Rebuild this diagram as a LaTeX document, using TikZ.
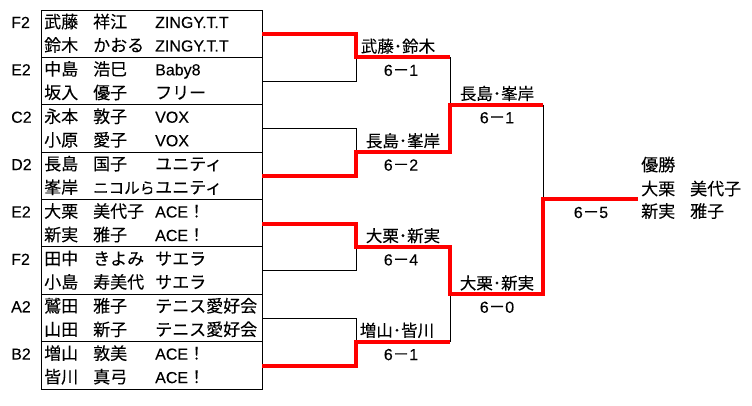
\documentclass[tikz,border=0pt]{standalone}
\usepackage{fontspec}
\setmainfont[FakeBold=0.12]{Noto Sans CJK JP}
\newfontfamily\latfont[FakeBold=0.12]{Liberation Sans}
\newcommand\lat{\latfont\fontsize{16}{18}\selectfont}
\begin{document}
\begin{tikzpicture}[x=1pt,y=-1pt,
  txt/.style={anchor=base west, inner sep=0pt, font=\fontsize{17}{18}\selectfont},
  lbl/.style={anchor=base, inner sep=0pt, font=\fontsize{16.5}{18}\selectfont},
  thinline/.style={draw=black, line width=0.9pt},
  winline/.style={draw=red, line width=4pt, line join=miter}]
\useasboundingbox (0,0) rectangle (752,406);
% table
\draw[thinline] (41,10) rectangle (262,389);
\foreach \k in {1,...,7} \draw[thinline] (41,{10+47.375*\k}) -- (262,{10+47.375*\k});
\foreach \k/\sd/\fa/\ga/\ca/\fb/\gb/\cb in {
 0/F2/武藤/祥江/{\lat ZINGY.T.T}/鈴木/かおる/{\lat ZINGY.T.T},
 1/E2/中島/浩巳/{\lat Baby8}/坂入/優子/フリー,
 2/C2/永本/敦子/{\lat VOX}/小原/愛子/{\lat VOX},
 3/D2/長島/国子/ユニティ/峯岸/{}/ユニティ,
 4/E2/大栗/美代子/{{\lat ACE}！}/新実/雅子/{{\lat ACE}！},
 5/F2/田中/きよみ/サエラ/小島/寿美代/サエラ,
 6/A2/鷲田/雅子/テニス愛好会/山田/新子/テニス愛好会,
 7/B2/増山/敦美/{{\lat ACE}！}/皆川/真弓/{{\lat ACE}！}}
{
 \pgfmathsetmacro\ya{10+47.375*\k+18}
 \pgfmathsetmacro\yb{10+47.375*\k+41.5}
 \node[txt] (sd\k) at (11,\ya) {\lat \sd};
 \node[txt] (fa\k) at (44,\ya) {\fa};
 \node[txt] (ga\k) at (93,\ya) {\ga};
 \node[txt] (ca\k) at (155,\ya) {\ca};
 \node[txt] (fb\k) at (44,\yb) {\fb};
 \node[txt] (gb\k) at (93,\yb) {\gb};
 \node[txt] (cb\k) at (155,\yb) {\cb};
}
\begin{scope}
 \clip (90,180) rectangle (152,200);
 \node[txt, font=\fontsize{15.5}{18}\selectfont] (gbx) at (93,193.625) {ニコルら};
\end{scope}
% bracket coordinates
\foreach \k in {0,...,7} \coordinate (t\k) at (262,{10+47.375*\k+24});
\coordinate (a1) at (356,57.375);  \coordinate (a1e) at (450,57.375);
\coordinate (a2) at (356,152.125); \coordinate (a2e) at (450,152.125);
\coordinate (a3) at (356,246.875); \coordinate (a3e) at (450,246.875);
\coordinate (a4) at (356,341.625); \coordinate (a4e) at (450,341.625);
\coordinate (b1) at (450,104.75);  \coordinate (b1e) at (543,104.75);
\coordinate (b2) at (450,294.25);  \coordinate (b2e) at (543,294.25);
\coordinate (c) at (543,199.5);    \coordinate (ce) at (638,199.5);
% losers
\draw[thinline] (t1) -| (a1);
\draw[thinline] (t2) -| (a2);
\draw[thinline] (t5) -| (a3);
\draw[thinline] (t6) -| (a4);
\draw[thinline] (a1e) -- (b1);
\draw[thinline] (a4e) -- (b2);
\draw[thinline] (b1e) -- (c);
% winners
\draw[winline] (t0) -| (a1) -- (a1e);
\draw[winline] (t3) -| (a2) -- (a2e) -- (b1) -- (b1e);
\draw[winline] (t4) -| (a3) -- (a3e) -- (b2) -- (b2e) -- (c) -- (ce);
\draw[winline] (t7) -| (a4) -- (a4e);
% match labels
\node[lbl] (w1) at (398,52.4) {武藤･鈴木};
\node[lbl] (r1) at (401,75.9) {{\lat 6}－{\lat 1}};
\node[lbl] (w2) at (403,147.1) {長島･峯岸};
\node[lbl] (r2) at (401,170.6) {{\lat 6}－{\lat 2}};
\node[lbl] (w3) at (403,241.9) {大栗･新実};
\node[lbl] (r3) at (401,265.4) {{\lat 6}－{\lat 4}};
\node[lbl] (w4) at (397,336.6) {増山･皆川};
\node[lbl] (r4) at (401,360.1) {{\lat 6}－{\lat 1}};
\node[lbl] (w5) at (497,99.75) {長島･峯岸};
\node[lbl] (r5) at (497,123.25) {{\lat 6}－{\lat 1}};
\node[lbl] (w6) at (497,289.25) {大栗･新実};
\node[lbl] (r6) at (497,312.75) {{\lat 6}－{\lat 0}};
\node[lbl] (r7) at (591,218) {{\lat 6}－{\lat 5}};
% champion
\node[txt] (ch) at (641,171) {優勝};
\node[txt] (cf1) at (641,195) {大栗};
\node[txt] (cg1) at (690,195) {美代子};
\node[txt] (cf2) at (641,217.5) {新実};
\node[txt] (cg2) at (690,217.5) {雅子};
\end{tikzpicture}
\end{document}
